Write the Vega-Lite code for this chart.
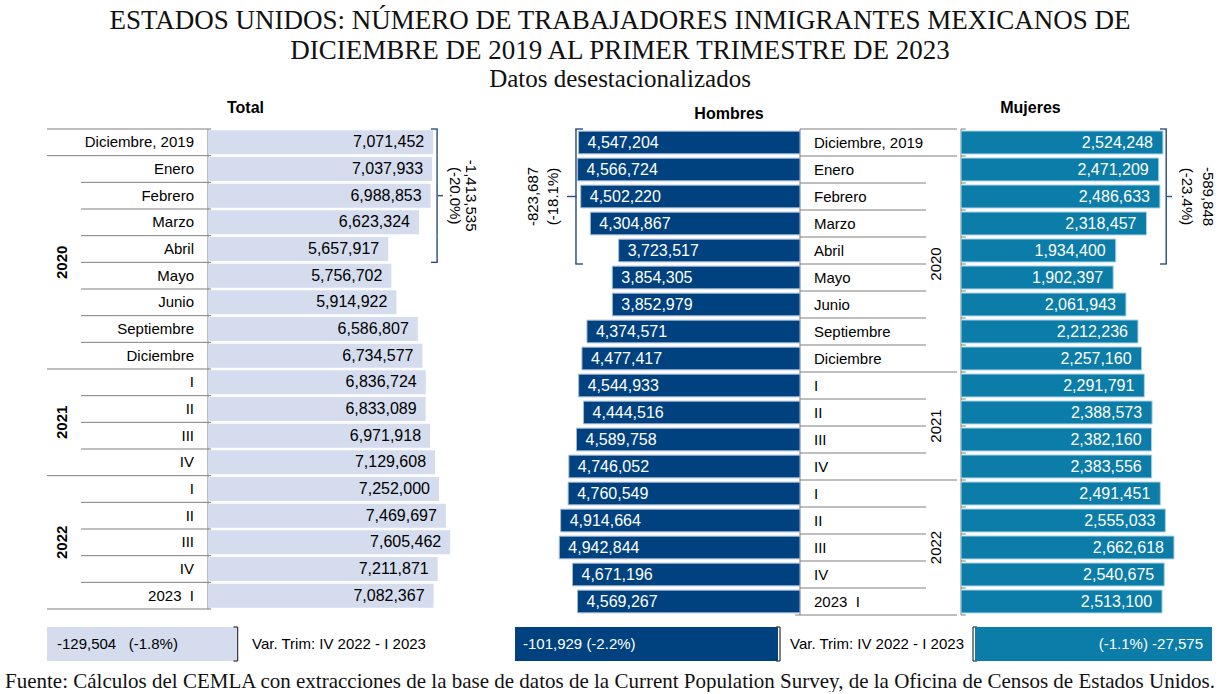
{
  "$schema": "https://vega.github.io/schema/vega-lite/v6.json",
  "padding": {"top": 7, "left": 0, "right": 0, "bottom": 0},
  "background": "white",
  "config": {"view": {"stroke": null}, "font": "Liberation Sans", "text": {"font": "Liberation Sans", "color": "#000"}},
  "title": {
    "text": ["ESTADOS UNIDOS: NÚMERO DE TRABAJADORES INMIGRANTES MEXICANOS DE", "DICIEMBRE DE 2019 AL PRIMER TRIMESTRE DE 2023"],
    "subtitle": "Datos desestacionalizados",
    "font": "Liberation Serif", "fontSize": 27, "fontWeight": "normal", "color": "#111", "lineHeight": 30,
    "subtitleFont": "Liberation Serif", "subtitleFontSize": 25, "subtitleColor": "#111", "subtitlePadding": 2,
    "anchor": "middle", "dx": 8, "offset": 7
  },
  "datasets": {
    "filas": [
      {"periodo": "2019-12", "etiqueta": "Diciembre, 2019", "total": 7071452, "hombres": 4547204, "mujeres": 2524248},
      {"periodo": "2020-01", "etiqueta": "Enero", "total": 7037933, "hombres": 4566724, "mujeres": 2471209},
      {"periodo": "2020-02", "etiqueta": "Febrero", "total": 6988853, "hombres": 4502220, "mujeres": 2486633},
      {"periodo": "2020-03", "etiqueta": "Marzo", "total": 6623324, "hombres": 4304867, "mujeres": 2318457},
      {"periodo": "2020-04", "etiqueta": "Abril", "total": 5657917, "hombres": 3723517, "mujeres": 1934400},
      {"periodo": "2020-05", "etiqueta": "Mayo", "total": 5756702, "hombres": 3854305, "mujeres": 1902397},
      {"periodo": "2020-06", "etiqueta": "Junio", "total": 5914922, "hombres": 3852979, "mujeres": 2061943},
      {"periodo": "2020-09", "etiqueta": "Septiembre", "total": 6586807, "hombres": 4374571, "mujeres": 2212236},
      {"periodo": "2020-12", "etiqueta": "Diciembre", "total": 6734577, "hombres": 4477417, "mujeres": 2257160},
      {"periodo": "2021-I", "etiqueta": "I", "total": 6836724, "hombres": 4544933, "mujeres": 2291791},
      {"periodo": "2021-II", "etiqueta": "II", "total": 6833089, "hombres": 4444516, "mujeres": 2388573},
      {"periodo": "2021-III", "etiqueta": "III", "total": 6971918, "hombres": 4589758, "mujeres": 2382160},
      {"periodo": "2021-IV", "etiqueta": "IV", "total": 7129608, "hombres": 4746052, "mujeres": 2383556},
      {"periodo": "2022-I", "etiqueta": "I", "total": 7252000, "hombres": 4760549, "mujeres": 2491451},
      {"periodo": "2022-II", "etiqueta": "II", "total": 7469697, "hombres": 4914664, "mujeres": 2555033},
      {"periodo": "2022-III", "etiqueta": "III", "total": 7605462, "hombres": 4942844, "mujeres": 2662618},
      {"periodo": "2022-IV", "etiqueta": "IV", "total": 7211871, "hombres": 4671196, "mujeres": 2540675},
      {"periodo": "2023-I", "etiqueta": "2023\u00a0\u00a0I", "total": 7082367, "hombres": 4569267, "mujeres": 2513100}
    ],
    "anios": [
      {"anio": "2020", "periodo": "2020-05"},
      {"anio": "2021", "periodo": "2021-III"},
      {"anio": "2022", "periodo": "2022-III"}
    ],
    "anotaciones": [
      {"panel": "Total", "periodo": "2020-02", "texto": "-1,413,535\n(-20.0%)"},
      {"panel": "Hombres", "periodo": "2020-02", "texto": "-823,687\n(-18.1%)"},
      {"panel": "Mujeres", "periodo": "2020-02", "texto": "-589,848\n(-23.4%)"}
    ],
    "variacion": [
      {"panel": "Total", "texto": "-129,504\u00a0\u00a0\u00a0(-1.8%)", "nota": "Var. Trim: IV 2022 - I 2023"},
      {"panel": "Hombres", "texto": "-101,929\u00a0(-2.2%)", "nota": "Var. Trim: IV 2022 - I 2023"},
      {"panel": "Mujeres", "texto": "(-1.1%) -27,575", "nota": ""}
    ]
  },
  "spacing": 10,
  "vconcat": [
    {
      "hconcat": [
        {
          "width": 505, "height": 480,
          "title": {"text": "Total", "font": "Liberation Sans", "fontSize": 16, "fontWeight": "bold", "color": "#000", "anchor": "middle", "dx": -7, "dy": 1, "offset": 0, "baseline": "alphabetic"},
          "layer": [
            {"data": {"name": "filas"}, "transform": [{"filter": {"not": {"field": "periodo", "oneOf": ["2019-12", "2020-01", "2021-I", "2022-I"]}}}],
             "mark": {"type": "rule", "color": "#7f7f7f", "strokeWidth": 1},
             "encoding": {"y": {"field": "periodo", "type": "nominal", "bandPosition": 0, "axis": null, "scale": {"domain": ["2019-12","2020-01","2020-02","2020-03","2020-04","2020-05","2020-06","2020-09","2020-12","2021-I","2021-II","2021-III","2021-IV","2022-I","2022-II","2022-III","2022-IV","2023-I"], "paddingInner": 0, "paddingOuter": 0}},
                          "x": {"datum": -3987000, "type": "quantitative", "axis": null, "scale": {"domain": [-6530600, 9325000], "nice": false, "zero": false}},
                          "x2": {"datum": 100000}}},
            {"data": {"name": "filas"}, "transform": [{"filter": {"field": "periodo", "oneOf": ["2019-12", "2020-01", "2021-I", "2022-I"]}}],
             "mark": {"type": "rule", "color": "#7f7f7f", "strokeWidth": 1},
             "encoding": {"y": {"field": "periodo", "type": "nominal", "bandPosition": 0, "axis": null, "scale": {"domain": ["2019-12","2020-01","2020-02","2020-03","2020-04","2020-05","2020-06","2020-09","2020-12","2021-I","2021-II","2021-III","2021-IV","2022-I","2022-II","2022-III","2022-IV","2023-I"], "paddingInner": 0, "paddingOuter": 0}},
                          "x": {"datum": -5055000, "type": "quantitative", "axis": null, "scale": {"domain": [-6530600, 9325000], "nice": false, "zero": false}},
                          "x2": {"datum": 100000}}},
            {"data": {"name": "filas"}, "transform": [{"filter": {"field": "periodo", "equal": "2023-I"}}],
             "mark": {"type": "rule", "color": "#7f7f7f", "strokeWidth": 1},
             "encoding": {"y": {"field": "periodo", "type": "nominal", "bandPosition": 1, "axis": null, "scale": {"domain": ["2019-12","2020-01","2020-02","2020-03","2020-04","2020-05","2020-06","2020-09","2020-12","2021-I","2021-II","2021-III","2021-IV","2022-I","2022-II","2022-III","2022-IV","2023-I"], "paddingInner": 0, "paddingOuter": 0}},
                          "x": {"datum": -5055000, "type": "quantitative", "axis": null, "scale": {"domain": [-6530600, 9325000], "nice": false, "zero": false}},
                          "x2": {"datum": 100000}}},
            {"data": {"name": "filas"}, "transform": [{"filter": {"field": "periodo", "equal": "2019-12"}}],
             "mark": {"type": "rule", "color": "#7f7f7f", "strokeWidth": 1},
             "encoding": {"x": {"datum": 0, "type": "quantitative", "axis": null, "scale": {"domain": [-6530600, 9325000], "nice": false, "zero": false}}}},
            {"data": {"name": "filas"},
             "mark": {"type": "bar", "color": "#D4DCEE", "height": {"band": 0.9}},
             "encoding": {"y": {"field": "periodo", "type": "nominal", "axis": null, "scale": {"domain": ["2019-12","2020-01","2020-02","2020-03","2020-04","2020-05","2020-06","2020-09","2020-12","2021-I","2021-II","2021-III","2021-IV","2022-I","2022-II","2022-III","2022-IV","2023-I"], "paddingInner": 0, "paddingOuter": 0}},
                          "x": {"field": "total", "type": "quantitative", "axis": null, "scale": {"domain": [-6530600, 9325000], "nice": false, "zero": false}},
                          "x2": {"datum": 0}}},
            {"data": {"name": "filas"},
             "mark": {"type": "text", "align": "right", "baseline": "middle", "dx": -9, "fontSize": 16, "color": "#000"},
             "encoding": {"y": {"field": "periodo", "type": "nominal", "axis": null, "scale": {"domain": ["2019-12","2020-01","2020-02","2020-03","2020-04","2020-05","2020-06","2020-09","2020-12","2021-I","2021-II","2021-III","2021-IV","2022-I","2022-II","2022-III","2022-IV","2023-I"], "paddingInner": 0, "paddingOuter": 0}},
                          "x": {"field": "total", "type": "quantitative", "axis": null, "scale": {"domain": [-6530600, 9325000], "nice": false, "zero": false}},
                          "text": {"field": "total", "type": "quantitative", "format": ",d"}}},
            {"data": {"name": "filas"},
             "mark": {"type": "text", "align": "right", "baseline": "middle", "fontSize": 15, "color": "#000"},
             "encoding": {"y": {"field": "periodo", "type": "nominal", "axis": null, "scale": {"domain": ["2019-12","2020-01","2020-02","2020-03","2020-04","2020-05","2020-06","2020-09","2020-12","2021-I","2021-II","2021-III","2021-IV","2022-I","2022-II","2022-III","2022-IV","2023-I"], "paddingInner": 0, "paddingOuter": 0}},
                          "x": {"datum": -440000, "type": "quantitative", "axis": null, "scale": {"domain": [-6530600, 9325000], "nice": false, "zero": false}},
                          "text": {"field": "etiqueta", "type": "nominal"}}},
            {"data": {"name": "anios"}, "transform": [{"filter": "datum.anio != '2022'"}],
             "mark": {"type": "text", "align": "center", "baseline": "middle", "angle": 270, "fontSize": 15, "fontWeight": "bold", "color": "#000"},
             "encoding": {"y": {"field": "periodo", "type": "nominal", "bandPosition": 0, "axis": null, "scale": {"domain": ["2019-12","2020-01","2020-02","2020-03","2020-04","2020-05","2020-06","2020-09","2020-12","2021-I","2021-II","2021-III","2021-IV","2022-I","2022-II","2022-III","2022-IV","2023-I"], "paddingInner": 0, "paddingOuter": 0}},
                          "x": {"datum": -4584000, "type": "quantitative", "axis": null, "scale": {"domain": [-6530600, 9325000], "nice": false, "zero": false}},
                          "text": {"field": "anio", "type": "nominal"}}},
            {"data": {"name": "anios"}, "transform": [{"filter": "datum.anio == '2022'"}],
             "mark": {"type": "text", "align": "center", "baseline": "middle", "angle": 270, "fontSize": 15, "fontWeight": "bold", "color": "#000"},
             "encoding": {"y": {"field": "periodo", "type": "nominal", "axis": null, "scale": {"domain": ["2019-12","2020-01","2020-02","2020-03","2020-04","2020-05","2020-06","2020-09","2020-12","2021-I","2021-II","2021-III","2021-IV","2022-I","2022-II","2022-III","2022-IV","2023-I"], "paddingInner": 0, "paddingOuter": 0}},
                          "x": {"datum": -4584000, "type": "quantitative", "axis": null, "scale": {"domain": [-6530600, 9325000], "nice": false, "zero": false}},
                          "text": {"field": "anio", "type": "nominal"}}},
            {"data": {"name": "filas"}, "transform": [{"filter": {"field": "periodo", "oneOf": ["2019-12", "2020-01", "2020-02", "2020-03", "2020-04"]}}],
             "mark": {"type": "bar", "color": "#2F4F80", "height": {"band": 1}},
             "encoding": {"y": {"field": "periodo", "type": "nominal", "axis": null, "scale": {"domain": ["2019-12","2020-01","2020-02","2020-03","2020-04","2020-05","2020-06","2020-09","2020-12","2021-I","2021-II","2021-III","2021-IV","2022-I","2022-II","2022-III","2022-IV","2023-I"], "paddingInner": 0, "paddingOuter": 0}},
                          "x": {"datum": 7170000, "type": "quantitative", "axis": null, "scale": {"domain": [-6530600, 9325000], "nice": false, "zero": false}},
                          "x2": {"datum": 7215000}}},
            {"data": {"name": "filas"}, "transform": [{"filter": {"field": "periodo", "equal": "2019-12"}}],
             "mark": {"type": "rule", "color": "#2F4F80", "strokeWidth": 1.4},
             "encoding": {"y": {"field": "periodo", "type": "nominal", "bandPosition": 0, "axis": null, "scale": {"domain": ["2019-12","2020-01","2020-02","2020-03","2020-04","2020-05","2020-06","2020-09","2020-12","2021-I","2021-II","2021-III","2021-IV","2022-I","2022-II","2022-III","2022-IV","2023-I"], "paddingInner": 0, "paddingOuter": 0}},
                          "x": {"datum": 7000000, "type": "quantitative", "axis": null, "scale": {"domain": [-6530600, 9325000], "nice": false, "zero": false}},
                          "x2": {"datum": 7215000}}},
            {"data": {"name": "filas"}, "transform": [{"filter": {"field": "periodo", "equal": "2020-04"}}],
             "mark": {"type": "rule", "color": "#2F4F80", "strokeWidth": 1.4},
             "encoding": {"y": {"field": "periodo", "type": "nominal", "bandPosition": 1, "axis": null, "scale": {"domain": ["2019-12","2020-01","2020-02","2020-03","2020-04","2020-05","2020-06","2020-09","2020-12","2021-I","2021-II","2021-III","2021-IV","2022-I","2022-II","2022-III","2022-IV","2023-I"], "paddingInner": 0, "paddingOuter": 0}},
                          "x": {"datum": 7000000, "type": "quantitative", "axis": null, "scale": {"domain": [-6530600, 9325000], "nice": false, "zero": false}},
                          "x2": {"datum": 7215000}}},
            {"data": {"name": "filas"}, "transform": [{"filter": {"field": "periodo", "equal": "2020-02"}}],
             "mark": {"type": "rule", "color": "#2F4F80", "strokeWidth": 1.4},
             "encoding": {"y": {"field": "periodo", "type": "nominal", "axis": null, "scale": {"domain": ["2019-12","2020-01","2020-02","2020-03","2020-04","2020-05","2020-06","2020-09","2020-12","2021-I","2021-II","2021-III","2021-IV","2022-I","2022-II","2022-III","2022-IV","2023-I"], "paddingInner": 0, "paddingOuter": 0}},
                          "x": {"datum": 7215000, "type": "quantitative", "axis": null, "scale": {"domain": [-6530600, 9325000], "nice": false, "zero": false}},
                          "x2": {"datum": 7378000}}},
            {"data": {"name": "anotaciones"}, "transform": [{"filter": "datum.panel == 'Total'"}],
             "mark": {"type": "text", "align": "center", "baseline": "middle", "angle": 90, "fontSize": 15, "lineHeight": 16, "lineBreak": "\n", "color": "#000"},
             "encoding": {"y": {"field": "periodo", "type": "nominal", "axis": null, "scale": {"domain": ["2019-12","2020-01","2020-02","2020-03","2020-04","2020-05","2020-06","2020-09","2020-12","2021-I","2021-II","2021-III","2021-IV","2022-I","2022-II","2022-III","2022-IV","2023-I"], "paddingInner": 0, "paddingOuter": 0}},
                          "x": {"datum": 8257000, "type": "quantitative", "axis": null, "scale": {"domain": [-6530600, 9325000], "nice": false, "zero": false}},
                          "text": {"field": "texto", "type": "nominal"}}}
          ]
        },
        {
          "width": 454, "height": 486,
          "title": {"text": "Hombres", "font": "Liberation Sans", "fontSize": 16, "fontWeight": "bold", "color": "#000", "anchor": "middle", "dx": -3, "dy": 7, "offset": 0, "baseline": "alphabetic"},
          "layer": [
            {"data": {"name": "filas"}, "transform": [{"filter": {"not": {"field": "periodo", "oneOf": ["2019-12", "2020-01", "2021-I", "2022-I"]}}}],
             "mark": {"type": "rule", "color": "#7f7f7f", "strokeWidth": 1},
             "encoding": {"y": {"field": "periodo", "type": "nominal", "bandPosition": 0, "axis": null, "scale": {"domain": ["2019-12","2020-01","2020-02","2020-03","2020-04","2020-05","2020-06","2020-09","2020-12","2021-I","2021-II","2021-III","2021-IV","2022-I","2022-II","2022-III","2022-IV","2023-I"], "paddingInner": 0, "paddingOuter": 0}},
                          "x": {"datum": 0, "type": "quantitative", "axis": null, "scale": {"domain": [-3264900, 6057500], "nice": false, "zero": false, "reverse": true}},
                          "x2": {"datum": -2587000}}},
            {"data": {"name": "filas"}, "transform": [{"filter": {"field": "periodo", "oneOf": ["2019-12", "2020-01", "2021-I", "2022-I"]}}],
             "mark": {"type": "rule", "color": "#7f7f7f", "strokeWidth": 1},
             "encoding": {"y": {"field": "periodo", "type": "nominal", "bandPosition": 0, "axis": null, "scale": {"domain": ["2019-12","2020-01","2020-02","2020-03","2020-04","2020-05","2020-06","2020-09","2020-12","2021-I","2021-II","2021-III","2021-IV","2022-I","2022-II","2022-III","2022-IV","2023-I"], "paddingInner": 0, "paddingOuter": 0}},
                          "x": {"datum": 0, "type": "quantitative", "axis": null, "scale": {"domain": [-3264900, 6057500], "nice": false, "zero": false, "reverse": true}},
                          "x2": {"datum": -3224000}}},
            {"data": {"name": "filas"}, "transform": [{"filter": {"field": "periodo", "equal": "2023-I"}}],
             "mark": {"type": "rule", "color": "#7f7f7f", "strokeWidth": 1},
             "encoding": {"y": {"field": "periodo", "type": "nominal", "bandPosition": 1, "axis": null, "scale": {"domain": ["2019-12","2020-01","2020-02","2020-03","2020-04","2020-05","2020-06","2020-09","2020-12","2021-I","2021-II","2021-III","2021-IV","2022-I","2022-II","2022-III","2022-IV","2023-I"], "paddingInner": 0, "paddingOuter": 0}},
                          "x": {"datum": 100000, "type": "quantitative", "axis": null, "scale": {"domain": [-3264900, 6057500], "nice": false, "zero": false, "reverse": true}},
                          "x2": {"datum": -3224000}}},
            {"data": {"name": "filas"}, "transform": [{"filter": {"field": "periodo", "equal": "2019-12"}}],
             "mark": {"type": "rule", "color": "#7f7f7f", "strokeWidth": 1},
             "encoding": {"x": {"datum": 0, "type": "quantitative", "axis": null, "scale": {"domain": [-3264900, 6057500], "nice": false, "zero": false, "reverse": true}}}},
            {"data": {"name": "filas"},
             "mark": {"type": "bar", "color": "#00427F", "stroke": "#A3B8D2", "strokeWidth": 1, "height": {"band": 0.84}},
             "encoding": {"y": {"field": "periodo", "type": "nominal", "axis": null, "scale": {"domain": ["2019-12","2020-01","2020-02","2020-03","2020-04","2020-05","2020-06","2020-09","2020-12","2021-I","2021-II","2021-III","2021-IV","2022-I","2022-II","2022-III","2022-IV","2023-I"], "paddingInner": 0, "paddingOuter": 0}},
                          "x": {"field": "hombres", "type": "quantitative", "axis": null, "scale": {"domain": [-3264900, 6057500], "nice": false, "zero": false, "reverse": true}},
                          "x2": {"datum": 0}}},
            {"data": {"name": "filas"},
             "mark": {"type": "text", "align": "left", "baseline": "middle", "dx": 9, "fontSize": 16, "color": "#ffffff"},
             "encoding": {"y": {"field": "periodo", "type": "nominal", "axis": null, "scale": {"domain": ["2019-12","2020-01","2020-02","2020-03","2020-04","2020-05","2020-06","2020-09","2020-12","2021-I","2021-II","2021-III","2021-IV","2022-I","2022-II","2022-III","2022-IV","2023-I"], "paddingInner": 0, "paddingOuter": 0}},
                          "x": {"field": "hombres", "type": "quantitative", "axis": null, "scale": {"domain": [-3264900, 6057500], "nice": false, "zero": false, "reverse": true}},
                          "text": {"field": "hombres", "type": "quantitative", "format": ",d"}}},
            {"data": {"name": "filas"},
             "mark": {"type": "text", "align": "left", "baseline": "middle", "fontSize": 15, "color": "#000"},
             "encoding": {"y": {"field": "periodo", "type": "nominal", "axis": null, "scale": {"domain": ["2019-12","2020-01","2020-02","2020-03","2020-04","2020-05","2020-06","2020-09","2020-12","2021-I","2021-II","2021-III","2021-IV","2022-I","2022-II","2022-III","2022-IV","2023-I"], "paddingInner": 0, "paddingOuter": 0}},
                          "x": {"datum": -287000, "type": "quantitative", "axis": null, "scale": {"domain": [-3264900, 6057500], "nice": false, "zero": false, "reverse": true}},
                          "text": {"field": "etiqueta", "type": "nominal"}}},
            {"data": {"name": "anios"}, "transform": [{"filter": "datum.anio != '2022'"}],
             "mark": {"type": "text", "align": "center", "baseline": "middle", "angle": 270, "fontSize": 15, "color": "#000"},
             "encoding": {"y": {"field": "periodo", "type": "nominal", "bandPosition": 0, "axis": null, "scale": {"domain": ["2019-12","2020-01","2020-02","2020-03","2020-04","2020-05","2020-06","2020-09","2020-12","2021-I","2021-II","2021-III","2021-IV","2022-I","2022-II","2022-III","2022-IV","2023-I"], "paddingInner": 0, "paddingOuter": 0}},
                          "x": {"datum": -2793000, "type": "quantitative", "axis": null, "scale": {"domain": [-3264900, 6057500], "nice": false, "zero": false, "reverse": true}},
                          "text": {"field": "anio", "type": "nominal"}}},
            {"data": {"name": "anios"}, "transform": [{"filter": "datum.anio == '2022'"}],
             "mark": {"type": "text", "align": "center", "baseline": "middle", "angle": 270, "fontSize": 15, "color": "#000"},
             "encoding": {"y": {"field": "periodo", "type": "nominal", "axis": null, "scale": {"domain": ["2019-12","2020-01","2020-02","2020-03","2020-04","2020-05","2020-06","2020-09","2020-12","2021-I","2021-II","2021-III","2021-IV","2022-I","2022-II","2022-III","2022-IV","2023-I"], "paddingInner": 0, "paddingOuter": 0}},
                          "x": {"datum": -2793000, "type": "quantitative", "axis": null, "scale": {"domain": [-3264900, 6057500], "nice": false, "zero": false, "reverse": true}},
                          "text": {"field": "anio", "type": "nominal"}}},
            {"data": {"name": "filas"}, "transform": [{"filter": {"field": "periodo", "oneOf": ["2019-12", "2020-01", "2020-02", "2020-03", "2020-04"]}}],
             "mark": {"type": "bar", "color": "#2F4F80", "height": {"band": 1}},
             "encoding": {"y": {"field": "periodo", "type": "nominal", "axis": null, "scale": {"domain": ["2019-12","2020-01","2020-02","2020-03","2020-04","2020-05","2020-06","2020-09","2020-12","2021-I","2021-II","2021-III","2021-IV","2022-I","2022-II","2022-III","2022-IV","2023-I"], "paddingInner": 0, "paddingOuter": 0}},
                          "x": {"datum": 4585000, "type": "quantitative", "axis": null, "scale": {"domain": [-3264900, 6057500], "nice": false, "zero": false, "reverse": true}},
                          "x2": {"datum": 4615000}}},
            {"data": {"name": "filas"}, "transform": [{"filter": {"field": "periodo", "equal": "2019-12"}}],
             "mark": {"type": "rule", "color": "#2F4F80", "strokeWidth": 1.4},
             "encoding": {"y": {"field": "periodo", "type": "nominal", "bandPosition": 0, "axis": null, "scale": {"domain": ["2019-12","2020-01","2020-02","2020-03","2020-04","2020-05","2020-06","2020-09","2020-12","2021-I","2021-II","2021-III","2021-IV","2022-I","2022-II","2022-III","2022-IV","2023-I"], "paddingInner": 0, "paddingOuter": 0}},
                          "x": {"datum": 4615000, "type": "quantitative", "axis": null, "scale": {"domain": [-3264900, 6057500], "nice": false, "zero": false, "reverse": true}},
                          "x2": {"datum": 4456000}}},
            {"data": {"name": "filas"}, "transform": [{"filter": {"field": "periodo", "equal": "2020-04"}}],
             "mark": {"type": "rule", "color": "#2F4F80", "strokeWidth": 1.4},
             "encoding": {"y": {"field": "periodo", "type": "nominal", "bandPosition": 1, "axis": null, "scale": {"domain": ["2019-12","2020-01","2020-02","2020-03","2020-04","2020-05","2020-06","2020-09","2020-12","2021-I","2021-II","2021-III","2021-IV","2022-I","2022-II","2022-III","2022-IV","2023-I"], "paddingInner": 0, "paddingOuter": 0}},
                          "x": {"datum": 4615000, "type": "quantitative", "axis": null, "scale": {"domain": [-3264900, 6057500], "nice": false, "zero": false, "reverse": true}},
                          "x2": {"datum": 4456000}}},
            {"data": {"name": "filas"}, "transform": [{"filter": {"field": "periodo", "equal": "2020-02"}}],
             "mark": {"type": "rule", "color": "#2F4F80", "strokeWidth": 1.4},
             "encoding": {"y": {"field": "periodo", "type": "nominal", "axis": null, "scale": {"domain": ["2019-12","2020-01","2020-02","2020-03","2020-04","2020-05","2020-06","2020-09","2020-12","2021-I","2021-II","2021-III","2021-IV","2022-I","2022-II","2022-III","2022-IV","2023-I"], "paddingInner": 0, "paddingOuter": 0}},
                          "x": {"datum": 4585000, "type": "quantitative", "axis": null, "scale": {"domain": [-3264900, 6057500], "nice": false, "zero": false, "reverse": true}},
                          "x2": {"datum": 4784000}}},
            {"data": {"name": "anotaciones"}, "transform": [{"filter": "datum.panel == 'Hombres'"}],
             "mark": {"type": "text", "align": "center", "baseline": "middle", "angle": 270, "fontSize": 15, "lineHeight": 20, "lineBreak": "\n", "color": "#000"},
             "encoding": {"y": {"field": "periodo", "type": "nominal", "axis": null, "scale": {"domain": ["2019-12","2020-01","2020-02","2020-03","2020-04","2020-05","2020-06","2020-09","2020-12","2021-I","2021-II","2021-III","2021-IV","2022-I","2022-II","2022-III","2022-IV","2023-I"], "paddingInner": 0, "paddingOuter": 0}},
                          "x": {"datum": 5483000, "type": "quantitative", "axis": null, "scale": {"domain": [-3264900, 6057500], "nice": false, "zero": false, "reverse": true}},
                          "text": {"field": "texto", "type": "nominal"}}}
          ]
        },
        {
          "width": 265, "height": 486,
          "title": {"text": "Mujeres", "font": "Liberation Sans", "fontSize": 16, "fontWeight": "bold", "color": "#000", "anchor": "middle", "dx": -61, "dy": 1, "offset": 0, "baseline": "alphabetic"},
          "layer": [
            {"data": {"name": "filas"}, "transform": [{"filter": {"field": "periodo", "equal": "2019-12"}}],
             "mark": {"type": "rule", "color": "#7f7f7f", "strokeWidth": 1},
             "encoding": {"x": {"datum": 0, "type": "quantitative", "axis": null, "scale": {"domain": [-25000, 3287500], "nice": false, "zero": false}}}},
            {"data": {"name": "filas"},
             "mark": {"type": "rule", "color": "#7f7f7f", "strokeWidth": 1},
             "encoding": {"y": {"field": "periodo", "type": "nominal", "bandPosition": 0, "axis": null, "scale": {"domain": ["2019-12","2020-01","2020-02","2020-03","2020-04","2020-05","2020-06","2020-09","2020-12","2021-I","2021-II","2021-III","2021-IV","2022-I","2022-II","2022-III","2022-IV","2023-I"], "paddingInner": 0, "paddingOuter": 0}},
                          "x": {"datum": 0, "type": "quantitative", "axis": null, "scale": {"domain": [-25000, 3287500], "nice": false, "zero": false}},
                          "x2": {"datum": 60000}}},
            {"data": {"name": "filas"}, "transform": [{"filter": {"field": "periodo", "equal": "2023-I"}}],
             "mark": {"type": "rule", "color": "#7f7f7f", "strokeWidth": 1},
             "encoding": {"y": {"field": "periodo", "type": "nominal", "bandPosition": 1, "axis": null, "scale": {"domain": ["2019-12","2020-01","2020-02","2020-03","2020-04","2020-05","2020-06","2020-09","2020-12","2021-I","2021-II","2021-III","2021-IV","2022-I","2022-II","2022-III","2022-IV","2023-I"], "paddingInner": 0, "paddingOuter": 0}},
                          "x": {"datum": 0, "type": "quantitative", "axis": null, "scale": {"domain": [-25000, 3287500], "nice": false, "zero": false}},
                          "x2": {"datum": 60000}}},
            {"data": {"name": "filas"},
             "mark": {"type": "bar", "color": "#0B7DA8", "stroke": "#A6D3E4", "strokeWidth": 1, "height": {"band": 0.85}},
             "encoding": {"y": {"field": "periodo", "type": "nominal", "axis": null, "scale": {"domain": ["2019-12","2020-01","2020-02","2020-03","2020-04","2020-05","2020-06","2020-09","2020-12","2021-I","2021-II","2021-III","2021-IV","2022-I","2022-II","2022-III","2022-IV","2023-I"], "paddingInner": 0, "paddingOuter": 0}},
                          "x": {"field": "mujeres", "type": "quantitative", "axis": null, "scale": {"domain": [-25000, 3287500], "nice": false, "zero": false}},
                          "x2": {"datum": 0}}},
            {"data": {"name": "filas"},
             "mark": {"type": "text", "align": "right", "baseline": "middle", "dx": -10, "fontSize": 16, "color": "#ffffff"},
             "encoding": {"y": {"field": "periodo", "type": "nominal", "axis": null, "scale": {"domain": ["2019-12","2020-01","2020-02","2020-03","2020-04","2020-05","2020-06","2020-09","2020-12","2021-I","2021-II","2021-III","2021-IV","2022-I","2022-II","2022-III","2022-IV","2023-I"], "paddingInner": 0, "paddingOuter": 0}},
                          "x": {"field": "mujeres", "type": "quantitative", "axis": null, "scale": {"domain": [-25000, 3287500], "nice": false, "zero": false}},
                          "text": {"field": "mujeres", "type": "quantitative", "format": ",d"}}},
            {"data": {"name": "filas"}, "transform": [{"filter": {"field": "periodo", "oneOf": ["2019-12", "2020-01", "2020-02", "2020-03", "2020-04"]}}],
             "mark": {"type": "bar", "color": "#2F4F80", "height": {"band": 1}},
             "encoding": {"y": {"field": "periodo", "type": "nominal", "axis": null, "scale": {"domain": ["2019-12","2020-01","2020-02","2020-03","2020-04","2020-05","2020-06","2020-09","2020-12","2021-I","2021-II","2021-III","2021-IV","2022-I","2022-II","2022-III","2022-IV","2023-I"], "paddingInner": 0, "paddingOuter": 0}},
                          "x": {"datum": 2556000, "type": "quantitative", "axis": null, "scale": {"domain": [-25000, 3287500], "nice": false, "zero": false}},
                          "x2": {"datum": 2574000}}},
            {"data": {"name": "filas"}, "transform": [{"filter": {"field": "periodo", "equal": "2019-12"}}],
             "mark": {"type": "rule", "color": "#2F4F80", "strokeWidth": 1.4},
             "encoding": {"y": {"field": "periodo", "type": "nominal", "bandPosition": 0, "axis": null, "scale": {"domain": ["2019-12","2020-01","2020-02","2020-03","2020-04","2020-05","2020-06","2020-09","2020-12","2021-I","2021-II","2021-III","2021-IV","2022-I","2022-II","2022-III","2022-IV","2023-I"], "paddingInner": 0, "paddingOuter": 0}},
                          "x": {"datum": 2487500, "type": "quantitative", "axis": null, "scale": {"domain": [-25000, 3287500], "nice": false, "zero": false}},
                          "x2": {"datum": 2574000}}},
            {"data": {"name": "filas"}, "transform": [{"filter": {"field": "periodo", "equal": "2020-04"}}],
             "mark": {"type": "rule", "color": "#2F4F80", "strokeWidth": 1.4},
             "encoding": {"y": {"field": "periodo", "type": "nominal", "bandPosition": 1, "axis": null, "scale": {"domain": ["2019-12","2020-01","2020-02","2020-03","2020-04","2020-05","2020-06","2020-09","2020-12","2021-I","2021-II","2021-III","2021-IV","2022-I","2022-II","2022-III","2022-IV","2023-I"], "paddingInner": 0, "paddingOuter": 0}},
                          "x": {"datum": 2487500, "type": "quantitative", "axis": null, "scale": {"domain": [-25000, 3287500], "nice": false, "zero": false}},
                          "x2": {"datum": 2574000}}},
            {"data": {"name": "filas"}, "transform": [{"filter": {"field": "periodo", "equal": "2020-02"}}],
             "mark": {"type": "rule", "color": "#2F4F80", "strokeWidth": 1.4},
             "encoding": {"y": {"field": "periodo", "type": "nominal", "axis": null, "scale": {"domain": ["2019-12","2020-01","2020-02","2020-03","2020-04","2020-05","2020-06","2020-09","2020-12","2021-I","2021-II","2021-III","2021-IV","2022-I","2022-II","2022-III","2022-IV","2023-I"], "paddingInner": 0, "paddingOuter": 0}},
                          "x": {"datum": 2574000, "type": "quantitative", "axis": null, "scale": {"domain": [-25000, 3287500], "nice": false, "zero": false}},
                          "x2": {"datum": 2637500}}},
            {"data": {"name": "anotaciones"}, "transform": [{"filter": "datum.panel == 'Mujeres'"}],
             "mark": {"type": "text", "align": "center", "baseline": "middle", "angle": 90, "fontSize": 15, "lineHeight": 21, "lineBreak": "\n", "color": "#000"},
             "encoding": {"y": {"field": "periodo", "type": "nominal", "axis": null, "scale": {"domain": ["2019-12","2020-01","2020-02","2020-03","2020-04","2020-05","2020-06","2020-09","2020-12","2021-I","2021-II","2021-III","2021-IV","2022-I","2022-II","2022-III","2022-IV","2023-I"], "paddingInner": 0, "paddingOuter": 0}},
                          "x": {"datum": 3087500, "type": "quantitative", "axis": null, "scale": {"domain": [-25000, 3287500], "nice": false, "zero": false}},
                          "text": {"field": "texto", "type": "nominal"}}}
          ]
        }
      ],
      "bounds": "flush",
      "spacing": 0
    },
    {
      "hconcat": [
        {
          "width": 505, "height": 34,
          "data": {"name": "variacion"},
          "transform": [{"filter": "datum.panel == 'Total'"}],
          "layer": [
            {"mark": {"type": "rect", "color": "#D4DCEE"},
             "encoding": {"x": {"datum": -5055000, "type": "quantitative", "axis": null, "scale": {"domain": [-6530600, 9325000], "nice": false, "zero": false}}, "x2": {"datum": 910000}}},
            {"mark": {"type": "text", "align": "left", "baseline": "middle", "fontSize": 15, "color": "#000"},
             "encoding": {"x": {"datum": -4741000, "type": "quantitative", "axis": null, "scale": {"domain": [-6530600, 9325000], "nice": false, "zero": false}}, "text": {"field": "texto", "type": "nominal"}}},
            {"mark": {"type": "rule", "color": "#404040", "strokeWidth": 1.3},
             "encoding": {"x": {"datum": 930000, "type": "quantitative", "axis": null, "scale": {"domain": [-6530600, 9325000], "nice": false, "zero": false}}}},
            {"mark": {"type": "rule", "color": "#404040", "strokeWidth": 1.3},
             "encoding": {"x": {"datum": 800000, "type": "quantitative", "axis": null, "scale": {"domain": [-6530600, 9325000], "nice": false, "zero": false}}, "x2": {"datum": 930000},
                          "y": {"datum": 1, "type": "quantitative", "axis": null, "scale": {"domain": [0, 1], "nice": false, "zero": false}}}},
            {"mark": {"type": "rule", "color": "#404040", "strokeWidth": 1.3},
             "encoding": {"x": {"datum": 800000, "type": "quantitative", "axis": null, "scale": {"domain": [-6530600, 9325000], "nice": false, "zero": false}}, "x2": {"datum": 930000},
                          "y": {"datum": 0, "type": "quantitative", "axis": null, "scale": {"domain": [0, 1], "nice": false, "zero": false}}}},
            {"mark": {"type": "text", "align": "left", "baseline": "middle", "fontSize": 15, "color": "#000"},
             "encoding": {"x": {"datum": 1381000, "type": "quantitative", "axis": null, "scale": {"domain": [-6530600, 9325000], "nice": false, "zero": false}}, "text": {"field": "nota", "type": "nominal"}}}
          ]
        },
        {
          "width": 454, "height": 34,
          "data": {"name": "variacion"},
          "transform": [{"filter": "datum.panel == 'Hombres'"}],
          "layer": [
            {"mark": {"type": "rect", "color": "#00427F"},
             "encoding": {"x": {"datum": 5852000, "type": "quantitative", "axis": null, "scale": {"domain": [-3264900, 6057500], "nice": false, "zero": false, "reverse": true}}, "x2": {"datum": 452000}}},
            {"mark": {"type": "text", "align": "left", "baseline": "middle", "fontSize": 15, "color": "#ffffff"},
             "encoding": {"x": {"datum": 5688000, "type": "quantitative", "axis": null, "scale": {"domain": [-3264900, 6057500], "nice": false, "zero": false, "reverse": true}}, "text": {"field": "texto", "type": "nominal"}}},
            {"mark": {"type": "rule", "color": "#404040", "strokeWidth": 1.3},
             "encoding": {"x": {"datum": 410000, "type": "quantitative", "axis": null, "scale": {"domain": [-3264900, 6057500], "nice": false, "zero": false, "reverse": true}}}},
            {"mark": {"type": "rule", "color": "#404040", "strokeWidth": 1.3},
             "encoding": {"x": {"datum": 492000, "type": "quantitative", "axis": null, "scale": {"domain": [-3264900, 6057500], "nice": false, "zero": false, "reverse": true}}, "x2": {"datum": 410000},
                          "y": {"datum": 1, "type": "quantitative", "axis": null, "scale": {"domain": [0, 1], "nice": false, "zero": false}}}},
            {"mark": {"type": "rule", "color": "#404040", "strokeWidth": 1.3},
             "encoding": {"x": {"datum": 492000, "type": "quantitative", "axis": null, "scale": {"domain": [-3264900, 6057500], "nice": false, "zero": false, "reverse": true}}, "x2": {"datum": 410000},
                          "y": {"datum": 0, "type": "quantitative", "axis": null, "scale": {"domain": [0, 1], "nice": false, "zero": false}}}},
            {"mark": {"type": "text", "align": "left", "baseline": "middle", "fontSize": 15, "color": "#000"},
             "encoding": {"x": {"datum": 205000, "type": "quantitative", "axis": null, "scale": {"domain": [-3264900, 6057500], "nice": false, "zero": false, "reverse": true}}, "text": {"field": "nota", "type": "nominal"}}}
          ]
        },
        {
          "width": 265, "height": 34,
          "data": {"name": "variacion"},
          "transform": [{"filter": "datum.panel == 'Mujeres'"}],
          "layer": [
            {"mark": {"type": "rule", "color": "#404040", "strokeWidth": 1.3},
             "encoding": {"x": {"datum": 150000, "type": "quantitative", "axis": null, "scale": {"domain": [-25000, 3287500], "nice": false, "zero": false}}}},
            {"mark": {"type": "rule", "color": "#404040", "strokeWidth": 1.3},
             "encoding": {"x": {"datum": 150000, "type": "quantitative", "axis": null, "scale": {"domain": [-25000, 3287500], "nice": false, "zero": false}}, "x2": {"datum": 200000},
                          "y": {"datum": 1, "type": "quantitative", "axis": null, "scale": {"domain": [0, 1], "nice": false, "zero": false}}}},
            {"mark": {"type": "rule", "color": "#404040", "strokeWidth": 1.3},
             "encoding": {"x": {"datum": 150000, "type": "quantitative", "axis": null, "scale": {"domain": [-25000, 3287500], "nice": false, "zero": false}}, "x2": {"datum": 200000},
                          "y": {"datum": 0, "type": "quantitative", "axis": null, "scale": {"domain": [0, 1], "nice": false, "zero": false}}}},
            {"mark": {"type": "rect", "color": "#0B7DA8"},
             "encoding": {"x": {"datum": 175000, "type": "quantitative", "axis": null, "scale": {"domain": [-25000, 3287500], "nice": false, "zero": false}}, "x2": {"datum": 3137500}}},
            {"mark": {"type": "text", "align": "right", "baseline": "middle", "fontSize": 15, "color": "#ffffff"},
             "encoding": {"x": {"datum": 3025000, "type": "quantitative", "axis": null, "scale": {"domain": [-25000, 3287500], "nice": false, "zero": false}}, "text": {"field": "texto", "type": "nominal"}}}
          ]
        }
      ],
      "bounds": "flush",
      "spacing": 0,
      "title": {"text": "Fuente: Cálculos del CEMLA con extracciones de la base de datos de la Current Population Survey, de la Oficina de Censos de Estados Unidos.", "orient": "bottom", "anchor": "start", "font": "Liberation Serif", "fontSize": 21, "fontWeight": "normal", "color": "#111", "offset": 9, "dx": 5}
    }
  ]
}
